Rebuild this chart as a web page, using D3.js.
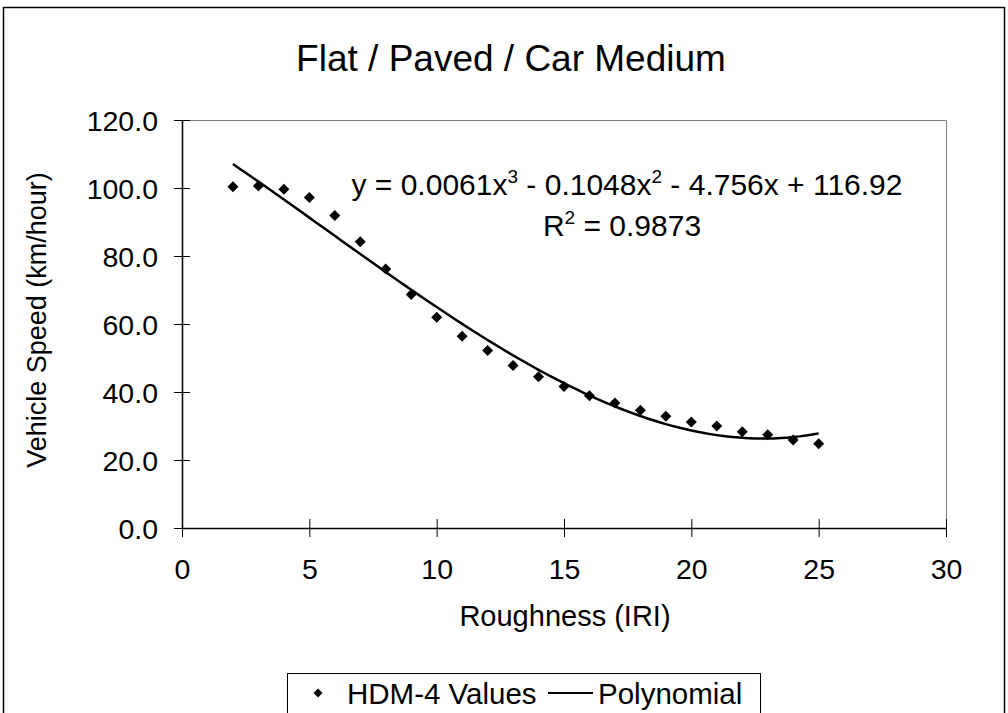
<!DOCTYPE html>
<html>
<head>
<meta charset="utf-8">
<script src="https://cdn.jsdelivr.net/npm/d3@7"></script>
<style>
  html, body { margin: 0; padding: 0; background: #fff; }
  svg { display: block; }
  text { font-family: "Liberation Sans", Arial, sans-serif; fill: #000; }
</style>
</head>
<body>
<svg id="chart" width="1008" height="713"></svg>
<script>
// ---- data ----
const roughness = [2, 3, 4, 5, 6, 7, 8, 9, 10, 11, 12, 13, 14, 15, 16, 17, 18, 19, 20, 21, 22, 23, 24, 25];
const hdm4Speed = [100.4, 100.6, 99.6, 97.2, 91.9, 84.2, 76.2, 68.7, 62.0, 56.4, 52.2, 47.8,
                   44.5, 41.6, 38.9, 36.8, 34.6, 32.9, 31.2, 30.0, 28.3, 27.4, 25.9, 24.8];
// Excel trendline coefficients, highest power first (as printed on the chart)
const trendCoef = [0.0061, -0.1048, -4.756, 116.92];
const xTicks = [0, 5, 10, 15, 20, 25, 30];
const yTicks = [0, 20, 40, 60, 80, 100, 120];

const titleText = 'Flat / Paved / Car Medium';
const xTitle = 'Roughness (IRI)';
const yTitle = 'Vehicle Speed (km/hour)';
const legendNames = ['HDM-4 Values', 'Polynomial'];

// ---- layout ----
const plot = { left: 182, top: 120, right: 946, bottom: 528 };
const svg = d3.select('#chart');

const x = d3.scaleLinear().domain([0, 30]).range([plot.left, plot.right]);
const y = d3.scaleLinear().domain([0, 120]).range([plot.bottom, plot.top]);

// outer chart frame
svg.append('rect')
  .attr('x', 3.5).attr('y', 7.5).attr('width', 1001).attr('height', 720)
  .attr('fill', 'none').attr('stroke', '#000').attr('stroke-width', 1.5);

// plot frame (top/right grey)
svg.append('path')
  .attr('d', `M${plot.left},${plot.top + 0.5}H${plot.right + 0.5}V${plot.bottom}`)
  .attr('fill', 'none').attr('stroke', '#808080').attr('stroke-width', 1);

// title
svg.append('text')
  .attr('x', 511).attr('y', 71)
  .attr('text-anchor', 'middle')
  .attr('font-size', 37)
  .text(titleText);

// x axis
const xAxis = svg.append('g')
  .attr('transform', `translate(0,${plot.bottom})`)
  .call(d3.axisBottom(x).tickValues(xTicks).tickSize(9).tickSizeOuter(0).tickPadding(0));
xAxis.select('.domain').attr('stroke', '#000').attr('stroke-width', 1.5);
xAxis.selectAll('.tick line').attr('y1', -9).attr('y2', 9).attr('stroke', '#000');
xAxis.selectAll('.tick text')
  .attr('y', 51).attr('dy', 0)
  .attr('font-size', 28.5)
  .attr('font-family', '"Liberation Sans", Arial, sans-serif');

// y axis
const yAxis = svg.append('g')
  .attr('transform', `translate(${plot.left},0)`)
  .call(d3.axisLeft(y).tickValues(yTicks).tickFormat(d3.format('.1f')).tickSize(8).tickSizeOuter(0).tickPadding(0));
yAxis.select('.domain').attr('stroke', '#000').attr('stroke-width', 1.5);
yAxis.selectAll('.tick line').attr('x1', -8).attr('x2', 8).attr('stroke', '#000');
yAxis.selectAll('.tick text')
  .attr('x', -24).attr('dy', '0.36em')
  .attr('font-size', 28.5)
  .attr('font-family', '"Liberation Sans", Arial, sans-serif');

// axis titles
svg.append('text')
  .attr('x', 565).attr('y', 626)
  .attr('text-anchor', 'middle')
  .attr('font-size', 29)
  .text(xTitle);

svg.append('text')
  .attr('transform', 'translate(46,320) rotate(-90)')
  .attr('text-anchor', 'middle')
  .attr('font-size', 27)
  .text(yTitle);

// trendline from the printed coefficients
const poly = v => trendCoef.reduce((acc, c) => acc * v + c, 0);
const trendX = d3.range(roughness[0], roughness[roughness.length - 1] + 0.001, 0.25);
svg.append('path')
  .datum(trendX)
  .attr('d', d3.line().x(d => x(d)).y(d => y(poly(d))))
  .attr('fill', 'none').attr('stroke', '#000').attr('stroke-width', 2.5);

// HDM-4 points (diamonds)
const diamond = 'M0,-5.5L5.5,0L0,5.5L-5.5,0Z';
svg.append('g').selectAll('path')
  .data(roughness.map((r, i) => [r, hdm4Speed[i]]))
  .join('path')
  .attr('d', diamond)
  .attr('transform', d => `translate(${x(d[0])},${y(d[1])})`)
  .attr('fill', '#000');

// equation + R^2
const eq = svg.append('text')
  .attr('x', 627).attr('y', 195)
  .attr('text-anchor', 'middle')
  .attr('font-size', 30);
eq.append('tspan').text('y = 0.0061x');
eq.append('tspan').attr('dy', -12).attr('font-size', 19).text('3');
eq.append('tspan').attr('dy', 12).text(' - 0.1048x');
eq.append('tspan').attr('dy', -12).attr('font-size', 19).text('2');
eq.append('tspan').attr('dy', 12).text(' - 4.756x + 116.92');

const r2 = svg.append('text')
  .attr('x', 622).attr('y', 236)
  .attr('text-anchor', 'middle')
  .attr('font-size', 30);
r2.append('tspan').text('R');
r2.append('tspan').attr('dy', -12).attr('font-size', 19).text('2');
r2.append('tspan').attr('dy', 12).text(' = 0.9873');

// legend
const lg = svg.append('g');
lg.append('rect')
  .attr('x', 287.5).attr('y', 673.5).attr('width', 473).attr('height', 60)
  .attr('fill', '#fff').attr('stroke', '#000').attr('stroke-width', 1);
lg.append('path').attr('d', 'M0,-4.5L4.5,0L0,4.5L-4.5,0Z')
  .attr('transform', 'translate(318,693)').attr('fill', '#000');
lg.append('text').attr('x', 347).attr('y', 704).attr('font-size', 29.5).text(legendNames[0]);
lg.append('line').attr('x1', 548).attr('x2', 593).attr('y1', 693).attr('y2', 693)
  .attr('stroke', '#000').attr('stroke-width', 2);
lg.append('text').attr('x', 598).attr('y', 704).attr('font-size', 29.5).text(legendNames[1]);
</script>
</body>
</html>
